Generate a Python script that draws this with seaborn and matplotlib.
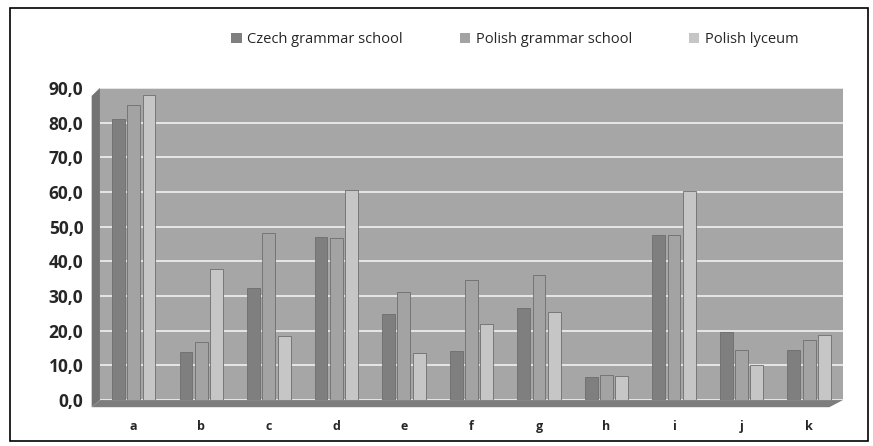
import pandas as pd
import matplotlib.pyplot as plt
import seaborn as sns
from matplotlib.patches import Rectangle, Polygon

categories = ["a", "b", "c", "d", "e", "f", "g", "h", "i", "j", "k"]
czech_gs = [80.9, 13.9, 32.2, 47.1, 24.7, 14.0, 26.5, 6.6, 47.7, 19.6, 14.5]
polish_gs = [85.1, 16.7, 48.2, 46.6, 31.1, 34.6, 36.0, 7.2, 47.5, 14.5, 17.4]
polish_lyceum = [88.0, 37.9, 18.6, 60.6, 13.5, 21.9, 25.5, 7.0, 60.3, 10.1, 18.8]
series = ["Czech grammar school", "Polish grammar school", "Polish lyceum"]
colors = ["#7f7f7f", "#a3a3a3", "#c6c6c6"]

df = pd.DataFrame({"cat": categories, series[0]: czech_gs,
                   series[1]: polish_gs, series[2]: polish_lyceum})
long_df = df.melt(id_vars="cat", var_name="school", value_name="value")

sns.set_style("white")
plt.rcParams['font.family'] = ['Open Sans', 'DejaVu Sans']

fig = plt.figure(figsize=(8.73, 4.46), dpi=100)
ax = fig.add_axes([0.1145, 0.103, 0.851, 0.700])
ax.set_facecolor("#a6a6a6")

sns.barplot(data=long_df, x="cat", y="value", hue="school", palette=colors,
            width=0.68, edgecolor="#6e6e6e", linewidth=0.6, ax=ax, zorder=3)

# small gap between neighbouring cylinders
for p in ax.patches:
    w = p.get_width()
    p.set_x(p.get_x() + w * 0.08)
    p.set_width(w * 0.84)

ax.set_ylim(0, 90)
ax.set_yticks(range(0, 91, 10))
ax.set_yticklabels([f"{v},0" for v in range(0, 91, 10)], fontsize=12.5, fontweight="bold")
ax.grid(axis="y", color="#e6e6e6", linewidth=1.4, zorder=0)
ax.set_axisbelow(True)
for lbl in ax.get_xticklabels():
    lbl.set_fontweight("bold")
    lbl.set_fontsize(9)
ax.tick_params(axis="x", length=0, pad=14)
ax.tick_params(axis="y", length=0, pad=12)
ax.set_xlabel("")
ax.set_ylabel("")
for s in ax.spines.values():
    s.set_visible(False)

# pseudo 3D side wall and floor
fig.patches.append(Polygon([[0.105, 0.087], [0.1145, 0.103], [0.1145, 0.803], [0.105, 0.785]],
                           closed=True, transform=fig.transFigure, facecolor="#737373",
                           edgecolor="none", zorder=0))
fig.patches.append(Polygon([[0.105, 0.087], [0.950, 0.087], [0.9656, 0.103], [0.1145, 0.103]],
                           closed=True, transform=fig.transFigure, facecolor="#7d7d7d",
                           edgecolor="none", zorder=0))

handles, labels = ax.get_legend_handles_labels()
ax.get_legend().remove()
leg = fig.legend(handles, labels, loc="center", bbox_to_anchor=(0.59, 0.912), ncol=3,
                 frameon=False, fontsize=10.5, handlelength=0.7, handleheight=0.7,
                 columnspacing=3.9, handletextpad=0.4)
for h in leg.legend_handles:
    h.set_edgecolor("none")

fig.patches.append(Rectangle((0.012, 0.012), 0.982, 0.97, transform=fig.transFigure,
                             fill=False, edgecolor="black", linewidth=1.2))

plt.savefig("out.png", dpi=100)
